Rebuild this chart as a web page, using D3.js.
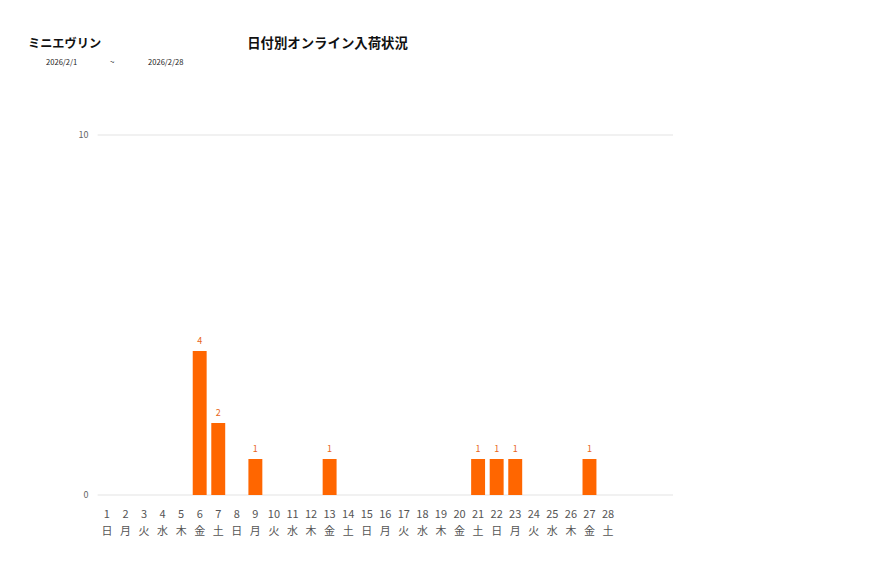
<!DOCTYPE html>
<html>
<head>
<meta charset="utf-8">
<script src="https://cdn.jsdelivr.net/npm/d3@7"></script>
<style>
  body { margin: 0; background: #fff; }
  svg { display: block; font-family: "Noto Sans CJK JP", "Noto Sans", sans-serif; }
</style>
</head>
<body>
<svg id="chart" width="877" height="578"></svg>
<script>
let WIDTH = 877, HEIGHT = 578;
let M = { top: 135, right: 204, bottom: 83, left: 97.6 };

// data
let brand = "ミニエヴリン";
let title = "日付別オンライン入荷状況";
let dateFrom = "2026/2/1", dateTo = "2026/2/28";
let days = d3.range(1, 29).map(String);
let weekdays = ["日","月","火","水","木","金","土","日","月","火","水","木","金","土",
                "日","月","火","水","木","金","土","日","月","火","水","木","金","土"];
let counts = [0,0,0,0,0,4,2,0,1,0,0,0,1,0,0,0,0,0,0,0,1,1,1,0,0,0,1,0];
let yTicks = [0, 10];
let slots = 31; // the axis is laid out for a 31-day month

let svg = d3.select("#chart");

// header texts
svg.append("text").attr("x", 28).attr("y", 48)
    .attr("font-size", 12.2).attr("font-weight", "bold").attr("fill", "#111")
    .text(brand);
svg.append("text").attr("x", 327.5).attr("y", 48).attr("text-anchor", "middle")
    .attr("font-size", 13.4).attr("font-weight", "bold").attr("fill", "#111")
    .text(title);
svg.append("text").attr("x", 46).attr("y", 65).attr("font-size", 7.6).attr("fill", "#222").text(dateFrom);
svg.append("text").attr("x", 110).attr("y", 65).attr("font-size", 8).attr("fill", "#222").text("~");
svg.append("text").attr("x", 148).attr("y", 65).attr("font-size", 7.6).attr("fill", "#222").text(dateTo);

let x = d3.scaleBand()
    .domain(d3.range(1, slots + 1).map(String))
    .range([M.left, WIDTH - M.right])
    .paddingInner(0.25)
    .paddingOuter(0.125);

let y = d3.scaleLinear()
    .domain([0, 10])
    .range([HEIGHT - M.bottom, M.top]);

// gridlines
svg.append("g").selectAll("line")
    .data(yTicks)
    .join("line")
    .attr("x1", M.left).attr("x2", WIDTH - M.right)
    .attr("y1", d => y(d)).attr("y2", d => y(d))
    .attr("stroke", "#e3e3e3").attr("stroke-width", 1.2);

svg.append("g").selectAll("text")
    .data(yTicks)
    .join("text")
    .attr("x", M.left - 9).attr("y", d => y(d) + 3)
    .attr("text-anchor", "end")
    .attr("font-size", 9).attr("fill", "#666")
    .text(d => d);

// bars
let data = days.map((d, i) => ({ day: d, wd: weekdays[i], n: counts[i] }));

svg.append("g").selectAll("rect")
    .data(data.filter(d => d.n > 0))
    .join("rect")
    .attr("x", d => x(d.day))
    .attr("width", x.bandwidth())
    .attr("y", d => y(d.n))
    .attr("height", d => y(0) - y(d.n))
    .attr("fill", "#ff6600");

svg.append("g").selectAll("text")
    .data(data.filter(d => d.n > 0))
    .join("text")
    .attr("x", d => x(d.day) + x.bandwidth() / 2)
    .attr("y", d => y(d.n) - 7)
    .attr("text-anchor", "middle")
    .attr("font-size", 9).attr("fill", "#e8661a")
    .text(d => d.n);

// x labels
let xl = svg.append("g");
xl.selectAll("text.day")
    .data(data)
    .join("text")
    .attr("class", "day")
    .attr("x", d => x(d.day) + x.bandwidth() / 2)
    .attr("y", 518)
    .attr("text-anchor", "middle")
    .attr("font-size", 11).attr("fill", "#555")
    .text(d => d.day);
xl.selectAll("text.wd")
    .data(data)
    .join("text")
    .attr("class", "wd")
    .attr("x", d => x(d.day) + x.bandwidth() / 2)
    .attr("y", 535)
    .attr("text-anchor", "middle")
    .attr("font-size", 11).attr("fill", "#555")
    .text(d => d.wd);
</script>
</body>
</html>
